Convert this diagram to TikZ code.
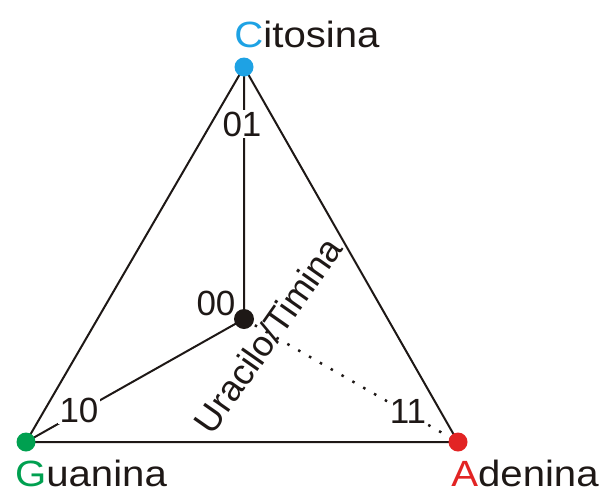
\documentclass[tikz,border=0pt]{standalone}
\usepackage{fontspec}
\setmainfont{Liberation Sans}
\definecolor{cblue}{RGB}{30,162,228}
\definecolor{cgreen}{RGB}{0,160,80}
\definecolor{cred}{RGB}{226,36,36}
\definecolor{cdark}{RGB}{30,24,22}
\begin{document}
\begin{tikzpicture}[x=1pt,y=-1pt,
  edgeline/.style={draw=cdark,line width=2pt},
  dotline/.style={draw=cdark,line width=2.5pt,dash pattern=on 2.5pt off 10pt},
  vdot/.style={circle,inner sep=0pt,minimum size=19pt},
  basename/.style={font=\fontsize{36.5}{36.5}\selectfont,text=cdark,inner sep=0pt,xscale=1.1},
  codelbl/.style={font=\fontsize{35}{35}\selectfont,text=cdark,inner sep=1.5pt,fill=white}]
\useasboundingbox (0,0) rectangle (602,496);
\coordinate (C) at (244,67);
\coordinate (G) at (26,442);
\coordinate (A) at (458,442);
\coordinate (O) at (244,319);
\draw[edgeline] (C) -- (G) -- (A) -- cycle;
\draw[edgeline] (C) -- (O) -- (G);
\draw[dotline] (O) -- (A);
\node[codelbl] (l01) at (242,124) {01};
\node[codelbl] (l00) at (216,303) {00};
\node[codelbl] (l10) at (79,410) {10};
\node[codelbl] (l11) at (408,411) {11};
\node[font=\fontsize{36}{36}\selectfont,text=cdark,rotate=55,inner sep=0pt] (ut) at (268,335) {Uracilo/Timina};
\node[vdot,fill=cblue] (dC) at (C) {};
\node[vdot,fill=cgreen] (dG) at (G) {};
\node[vdot,fill=cred] (dA) at (A) {};
\node[vdot,fill=cdark,minimum size=20pt] (dO) at (O) {};
\node[basename,anchor=base] (tC) at (307,47) {{\color{cblue}C}itosina};
\node[basename,anchor=base] (tG) at (91,486) {{\color{cgreen}G}uanina};
\node[basename,anchor=base] (tA) at (525,486) {{\color{cred}A}denina};
\end{tikzpicture}
\end{document}
